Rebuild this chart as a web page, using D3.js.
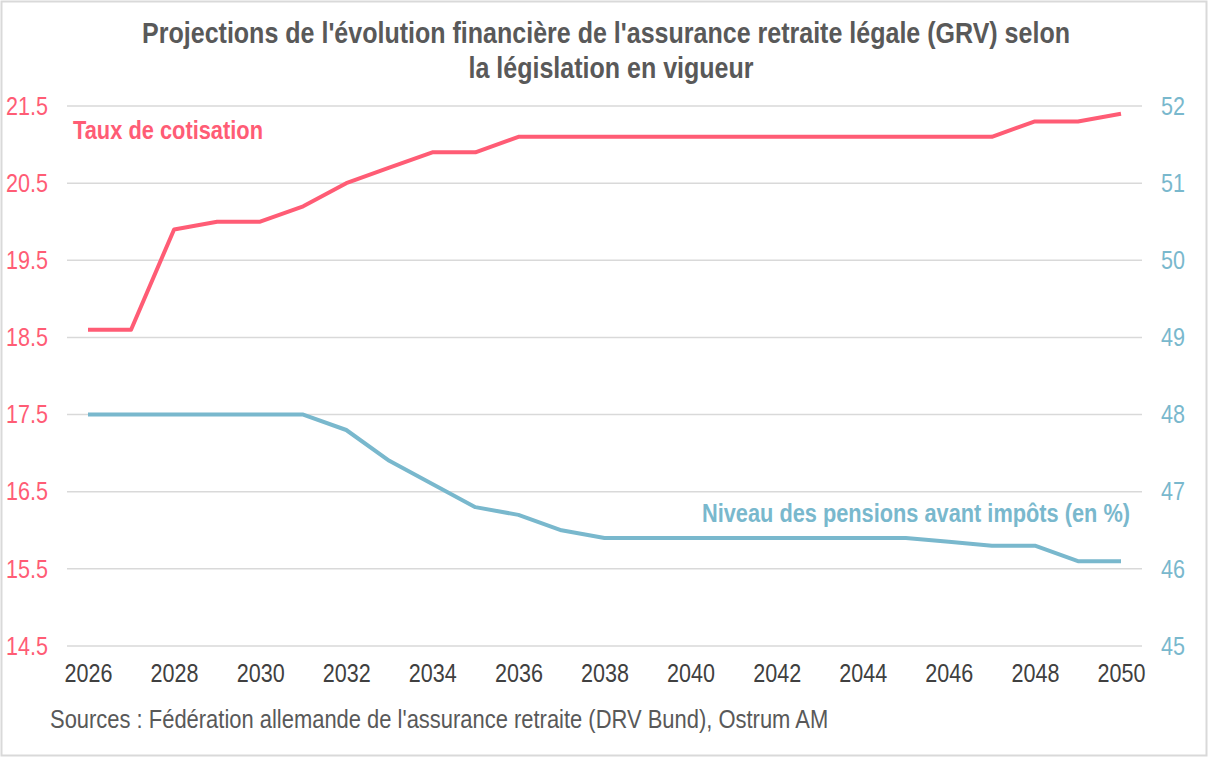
<!DOCTYPE html>
<html>
<head>
<meta charset="utf-8">
<script src="https://cdn.jsdelivr.net/npm/d3@7"></script>
<style>
  html, body { margin: 0; padding: 0; background: #fff; }
  svg { display: block; }
</style>
</head>
<body>
<svg id="chart" width="1212" height="760"></svg>
<script>
// ---- Data ----
const years = d3.range(2026, 2051);
const tauxCotisation = [18.6, 18.6, 19.9, 20.0, 20.0, 20.2, 20.5, 20.7, 20.9, 20.9, 21.1, 21.1, 21.1, 21.1, 21.1, 21.1, 21.1, 21.1, 21.1, 21.1, 21.1, 21.1, 21.3, 21.3, 21.4];
const niveauPensions = [48.0, 48.0, 48.0, 48.0, 48.0, 48.0, 47.8, 47.4, 47.1, 46.8, 46.7, 46.5, 46.4, 46.4, 46.4, 46.4, 46.4, 46.4, 46.4, 46.4, 46.35, 46.3, 46.3, 46.1, 46.1];
const leftTicks = [14.5, 15.5, 16.5, 17.5, 18.5, 19.5, 20.5, 21.5];
const rightTicks = [45, 46, 47, 48, 49, 50, 51, 52];
const xTicks = d3.range(2026, 2051, 2);
const titleLines = ["Projections de l'évolution financière de l'assurance retraite légale (GRV) selon", "la législation en vigueur"];
const seriesLabels = ["Taux de cotisation", "Niveau des pensions avant impôts (en %)"];
const sourceText = "Sources : Fédération allemande de l'assurance retraite (DRV Bund), Ostrum AM";

// ---- Styles ----
const RED = "#ff5c75";
const BLUE = "#79b8cd";
const GREY = "#595959";
const FONT = "'Liberation Sans Narrow', 'Arial Narrow', 'Liberation Sans', Arial, sans-serif";
const K = 1.2; // vertical stretch to imitate condensed lettering

const svg = d3.select("#chart");

function fit(sel, target) {
  const w = sel.node().getComputedTextLength();
  const fs = parseFloat(sel.attr("font-size"));
  sel.attr("font-size", (fs * target / w).toFixed(2));
  return sel;
}
function label(xp, yp, txt, opts) {
  const t = svg.append("text")
    .attr("transform", `translate(${xp},${yp}) scale(1,${K})`)
    .attr("font-family", FONT)
    .attr("font-size", opts.size || 20)
    .attr("font-weight", opts.weight || "normal")
    .attr("text-anchor", opts.anchor || "start")
    .attr("fill", opts.fill)
    .text(txt);
  if (opts.width) fit(t, opts.width);
  return t;
}

// frame
svg.append("rect").attr("x", 1.5).attr("y", 1.5).attr("width", 1205).attr("height", 754)
  .attr("fill", "#fff").attr("stroke", "#d9d9d9").attr("stroke-width", 2);

const x = d3.scaleLinear().domain([2026, 2050]).range([88, 1121]);
const yL = d3.scaleLinear().domain([14.5, 21.5]).range([646, 106]);
const yR = d3.scaleLinear().domain([45, 52]).range([646, 106]);

// gridlines
svg.append("g").selectAll("line").data(leftTicks).join("line")
  .attr("x1", 67).attr("x2", 1142)
  .attr("y1", d => yL(d)).attr("y2", d => yL(d))
  .attr("stroke", "#d9d9d9").attr("stroke-width", 1.5);

// measure tick font size
const probe = svg.append("text").attr("font-family", FONT).attr("font-size", 20).text("2026");
fit(probe, 48);
const tickFS = probe.attr("font-size");
probe.remove();

// left axis
const gL = svg.append("g").attr("transform", "translate(48,0)")
  .call(d3.axisLeft(yL).tickValues(leftTicks).tickSize(0).tickPadding(0).tickFormat(d3.format(".1f")));
gL.select(".domain").remove();
gL.selectAll("text").attr("font-family", FONT).attr("font-size", tickFS).attr("fill", RED)
  .attr("transform", `scale(1,${K})`);

// right axis
const gR = svg.append("g").attr("transform", "translate(1161,0)")
  .call(d3.axisRight(yR).tickValues(rightTicks).tickSize(0).tickPadding(0).tickFormat(d3.format("d")));
gR.select(".domain").remove();
gR.selectAll("text").attr("font-family", FONT).attr("font-size", tickFS).attr("fill", BLUE)
  .attr("transform", `scale(1,${K})`);

// x axis
const gX = svg.append("g").attr("transform", "translate(0,664)")
  .call(d3.axisBottom(x).tickValues(xTicks).tickSize(0).tickPadding(0).tickFormat(d3.format("d")));
gX.select(".domain").remove();
gX.selectAll("text").attr("font-family", FONT).attr("font-size", tickFS).attr("fill", "#404040")
  .attr("transform", `scale(1,${K})`);

// lines
const lineL = d3.line().x((d, i) => x(years[i])).y(d => yL(d));
const lineR = d3.line().x((d, i) => x(years[i])).y(d => yR(d));
svg.append("path").datum(niveauPensions).attr("d", lineR)
  .attr("fill", "none").attr("stroke", BLUE).attr("stroke-width", 4).attr("stroke-linejoin", "round");
svg.append("path").datum(tauxCotisation).attr("d", lineL)
  .attr("fill", "none").attr("stroke", RED).attr("stroke-width", 4).attr("stroke-linejoin", "round");

// series labels
label(73, 139, seriesLabels[0], { weight: "bold", fill: RED, width: 190 });
label(1130, 522, seriesLabels[1], { weight: "bold", fill: BLUE, width: 428, anchor: "end" });

// title
const tt1 = label(606, 43, titleLines[0], { weight: "bold", fill: GREY, anchor: "middle", width: 928 });
label(611, 78, titleLines[1], { weight: "bold", fill: GREY, anchor: "middle", size: tt1.attr("font-size") });

// source
label(50, 728, sourceText, { fill: GREY, width: 778 });
</script>
</body>
</html>
